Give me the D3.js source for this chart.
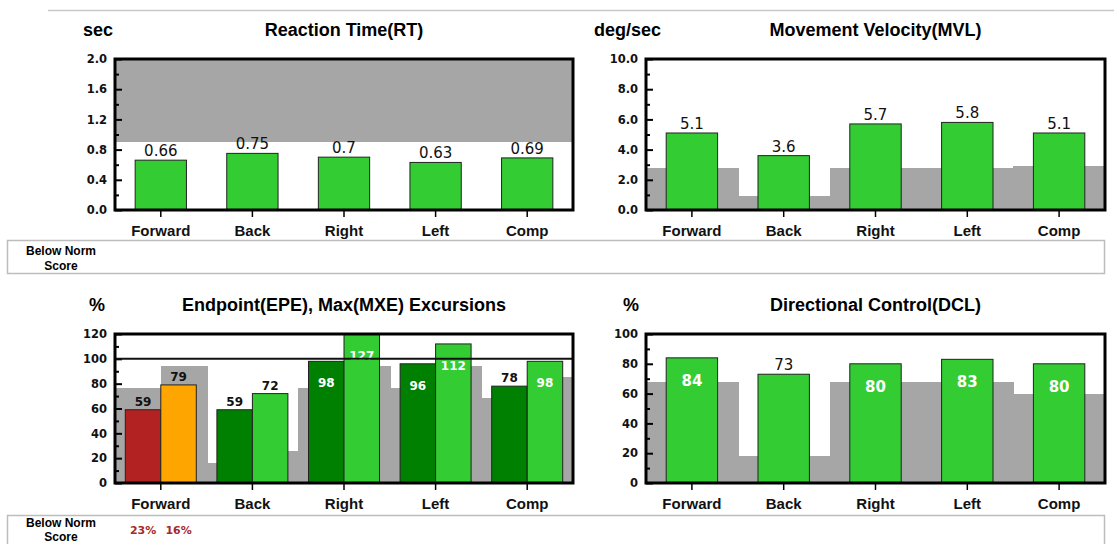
<!DOCTYPE html>
<html><head><meta charset="utf-8">
<script src="https://cdn.jsdelivr.net/npm/d3@7"></script>
<style>
body{margin:0;background:#fff;}
svg{display:block;}
</style></head><body>
<svg id="c" width="1114" height="544"></svg>
<script>
// ---------- data ----------
const categories = ["Forward", "Back", "Right", "Left", "Comp"];

const rtValues = [0.66, 0.75, 0.7, 0.63, 0.69];
const rtNorm = [0.9, 0.9, 0.9, 0.9, 0.9];
const rtTicks = [0, 0.4, 0.8, 1.2, 1.6, 2.0];
const rtMinor = [0.2, 0.6, 1.0, 1.4, 1.8];

const mvlValues = [5.1, 3.6, 5.7, 5.8, 5.1];
const mvlNorm = [2.8, 0.9, 2.8, 2.8, 2.9];
const mvlTicks = [0, 2, 4, 6, 8, 10];
const mvlMinor = [1, 3, 5, 7, 9];

const epeValues = [59, 59, 98, 96, 78];
const mxeValues = [79, 72, 127, 112, 98];
const epeNorm = [76.5, 16, 76.5, 76.5, 68.5];
const mxeNorm = [94, 26, 94, 94, 85];
const epeBelowNorm = ["23%", "", "", "", ""];
const mxeBelowNorm = ["16%", "", "", "", ""];
const epeTicks = [0, 20, 40, 60, 80, 100, 120];
const epeMinor = [10, 30, 50, 70, 90, 110];
const epeReference = 100;

const dclValues = [84, 73, 80, 83, 80];
const dclNorm = [68, 18, 68, 68, 60];
const dclTicks = [0, 20, 40, 60, 80, 100];
const dclMinor = [10, 30, 50, 70, 90];

// ---------- drawing ----------
const W = 1114;
const svg = d3.select("#c");
const GREEN = "#33cc33", DKGREEN = "#008000", RED = "#b22222", ORANGE = "#ffa500", GRAY = "#a6a6a6";
const TF = "'Liberation Sans', Arial, sans-serif";
const NF = "'DejaVu Sans', Verdana, sans-serif";

svg.append("line").attr("x1", 48).attr("x2", W).attr("y1", 10.5).attr("y2", 10.5)
  .attr("stroke", "#c8c8c8").attr("stroke-width", 1.5);

// below-norm boxes
[[240, 33, 255, 270], [515, 36, 527, 541]].forEach(([by, bh, t1, t2]) => {
  svg.append("rect").attr("x", 7.5).attr("y", by + 0.5).attr("width", 1097).attr("height", bh)
    .attr("fill", "none").attr("stroke", "#bdbdbd").attr("stroke-width", 1.5);
  svg.append("text").attr("x", 61).attr("y", t1).attr("text-anchor", "middle")
    .attr("font-family", TF).attr("font-weight", "bold").attr("font-size", 12).text("Below Norm");
  svg.append("text").attr("x", 61).attr("y", t2).attr("text-anchor", "middle")
    .attr("font-family", TF).attr("font-weight", "bold").attr("font-size", 12).text("Score");
});

function makePanel(o) {
  const g = svg.append("g");
  const xFull = d3.scaleBand().domain(categories).range([o.x0, o.x1]).padding(0);
  const y = d3.scaleLinear().domain([0, o.max]).range([o.yBot, o.yTop]).clamp(true);
  g.append("text").attr("x", (o.x0 + o.x1) / 2).attr("y", o.yTop - 23).attr("text-anchor", "middle")
    .attr("font-family", TF).attr("font-weight", "bold").attr("font-size", 18).text(o.title);
  g.append("text").attr("x", o.unitX).attr("y", o.yTop - 23)
    .attr("font-family", TF).attr("font-weight", "bold").attr("font-size", 18).text(o.unit);
  const plot = g.append("g");
  const ya = g.append("g").attr("transform", `translate(${o.x0},0)`)
    .call(d3.axisLeft(y).tickValues(o.ticks).tickSize(-7).tickPadding(8).tickFormat(o.fmt));
  const ym = g.append("g").attr("transform", `translate(${o.x0},0)`)
    .call(d3.axisLeft(y).tickValues(o.minor).tickSize(-4).tickFormat(""));
  const xa = g.append("g").attr("transform", `translate(0,${o.yBot})`)
    .call(d3.axisBottom(xFull).tickSize(7).tickPadding(8));
  [ya, ym, xa].forEach(a => a.select(".domain").remove());
  ya.selectAll("line").attr("stroke", "#000").attr("stroke-width", 2);
  ym.selectAll("line").attr("stroke", "#000").attr("stroke-width", 2);
  xa.selectAll("line").attr("stroke", "#000").attr("stroke-width", 1.5);
  ya.selectAll("text").attr("font-family", NF).attr("font-weight", "bold").attr("font-size", 11.5).attr("fill", "#111");
  xa.selectAll("text").attr("font-family", TF).attr("font-weight", "bold").attr("font-size", 15).attr("fill", "#111");
  const over = g.append("g");
  const frame = () => g.append("rect").attr("x", o.x0).attr("y", o.yTop)
    .attr("width", o.x1 - o.x0).attr("height", o.yBot - o.yTop)
    .attr("fill", "none").attr("stroke", "#000").attr("stroke-width", 3);
  return { g, plot, over, xFull, y, frame };
}

function singlePanel(o, values, norm, normAbove, labelFn) {
  const p = makePanel(o);
  const x = d3.scaleBand().domain(categories).range([o.x0, o.x1]).paddingInner(0.44).paddingOuter(0.22);
  const data = categories.map((c, i) => ({ c, v: values[i], n: norm[i] }));
  p.plot.selectAll("rect.norm").data(data).join("rect").attr("class", "norm")
    .attr("shape-rendering", "crispEdges")
    .attr("x", d => p.xFull(d.c)).attr("width", p.xFull.bandwidth() + 1)
    .attr("y", d => normAbove ? p.y(o.max) : p.y(d.n))
    .attr("height", d => normAbove ? p.y(d.n) - p.y(o.max) : p.y(0) - p.y(d.n))
    .attr("fill", GRAY);
  p.plot.selectAll("rect.bar").data(data).join("rect").attr("class", "bar")
    .attr("x", d => x(d.c)).attr("width", x.bandwidth())
    .attr("y", d => p.y(d.v)).attr("height", d => p.y(0) - p.y(d.v))
    .attr("fill", GREEN).attr("stroke", "#222").attr("stroke-width", 1);
  p.plot.selectAll("text.lbl").data(data).join("text").attr("class", "lbl")
    .attr("x", d => x(d.c) + x.bandwidth() / 2).attr("text-anchor", "middle")
    .attr("font-family", NF).attr("font-size", 15)
    .each(function (d) { labelFn(d3.select(this), d, p.y); })
    .text(d => d.v);
  p.frame();
  return p;
}

singlePanel({ x0: 115, x1: 573, yTop: 59, yBot: 210, max: 2, ticks: rtTicks, minor: rtMinor,
  fmt: d3.format(".1f"), title: "Reaction Time(RT)", unit: "sec", unitX: 83 },
  rtValues, rtNorm, true,
  (s, d, y) => s.attr("y", y(d.v) - 4).attr("fill", "#111"));

singlePanel({ x0: 646, x1: 1105, yTop: 59, yBot: 210, max: 10, ticks: mvlTicks, minor: mvlMinor,
  fmt: d3.format(".1f"), title: "Movement Velocity(MVL)", unit: "deg/sec", unitX: 594 },
  mvlValues, mvlNorm, false,
  (s, d, y) => s.attr("y", y(d.v) - 4).attr("fill", "#111"));

singlePanel({ x0: 646, x1: 1105, yTop: 334, yBot: 483, max: 100, ticks: dclTicks, minor: dclMinor,
  fmt: d3.format("d"), title: "Directional Control(DCL)", unit: "%", unitX: 623 },
  dclValues, dclNorm, false,
  (s, d, y) => d.v >= 80
    ? s.attr("y", y(d.v) + 28).attr("fill", "#fff").attr("font-weight", "bold")
    : s.attr("y", y(d.v) - 4).attr("fill", "#111"));

(function () {
  const o = { x0: 115, x1: 573, yTop: 334, yBot: 483, max: 120, ticks: epeTicks, minor: epeMinor,
    fmt: d3.format("d"), title: "Endpoint(EPE), Max(MXE) Excursions", unit: "%", unitX: 89 };
  const p = makePanel(o);
  const x = d3.scaleBand().domain(categories).range([o.x0, o.x1]).paddingInner(0.225).paddingOuter(0.1125);
  const series = ["EPE", "MXE"];
  const sub = d3.scaleBand().domain(series).range([0, x.bandwidth()]).padding(0);
  const half = d3.scaleBand().domain(series).range([0, p.xFull.bandwidth()]).padding(0);
  const data = [];
  categories.forEach((c, i) => {
    data.push({ c, s: "EPE", v: epeValues[i], n: epeNorm[i], below: epeBelowNorm[i] });
    data.push({ c, s: "MXE", v: mxeValues[i], n: mxeNorm[i], below: mxeBelowNorm[i] });
  });
  const color = d => d.s === "EPE" ? (d.v < d.n ? RED : DKGREEN) : (d.v < d.n ? ORANGE : GREEN);
  p.plot.selectAll("rect.norm").data(data).join("rect").attr("class", "norm")
    .attr("shape-rendering", "crispEdges")
    .attr("x", d => p.xFull(d.c) + half(d.s)).attr("width", half.bandwidth() + 1)
    .attr("y", d => p.y(d.n)).attr("height", d => p.y(0) - p.y(d.n)).attr("fill", GRAY);
  p.plot.selectAll("rect.bar").data(data).join("rect").attr("class", "bar")
    .attr("x", d => x(d.c) + sub(d.s)).attr("width", sub.bandwidth())
    .attr("y", d => p.y(d.v)).attr("height", d => p.y(0) - p.y(d.v))
    .attr("fill", color).attr("stroke", "#222").attr("stroke-width", 1);
  p.plot.selectAll("text.lbl").data(data).join("text").attr("class", "lbl")
    .attr("x", d => x(d.c) + sub(d.s) + sub.bandwidth() / 2).attr("text-anchor", "middle")
    .attr("font-family", NF).attr("font-size", 12).attr("font-weight", "bold")
    .attr("y", d => d.v >= 80 ? p.y(d.v) + 26 : p.y(d.v) - 4)
    .attr("fill", d => d.v >= 80 ? "#fff" : "#111")
    .text(d => d.v);
  p.over.append("line").attr("x1", o.x0).attr("x2", o.x1)
    .attr("y1", p.y(epeReference)).attr("y2", p.y(epeReference))
    .attr("stroke", "#111").attr("stroke-width", 2);
  p.frame();
  svg.selectAll("text.bn").data(data.filter(d => d.below)).join("text").attr("class", "bn")
    .attr("x", d => x(d.c) + sub(d.s) + sub.bandwidth() / 2).attr("y", 534)
    .attr("text-anchor", "middle").attr("font-family", NF).attr("font-weight", "bold")
    .attr("font-size", 11).attr("fill", "#a52a2a").text(d => d.below);
})();
</script>
</body></html>
